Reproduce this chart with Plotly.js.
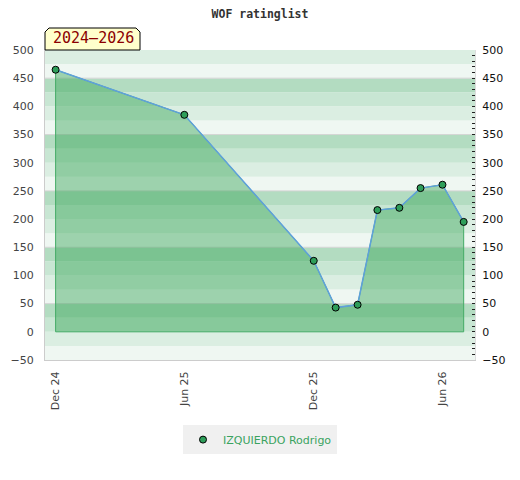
<!DOCTYPE html>
<html>
<head>
<meta charset="utf-8">
<script src="https://cdn.plot.ly/plotly-3.0.1.min.js"></script>
<style>html,body{margin:0;padding:0;background:#fff}#chart{width:520px;height:480px}</style>
</head>
<body>
<div id="chart"></div>
<script>
var dates = ["2024-12-01","2025-06-01","2025-12-01","2026-01-01","2026-02-01","2026-03-01","2026-04-01","2026-05-01","2026-06-01","2026-07-01"];
var ratings = [465, 385, 126, 43, 48, 216, 220, 255, 261, 195];
var playerName = "IZQUIERDO Rodrigo";
var chartTitle = "WOF ratinglist";
var periodLabel = "2024\u20132026";
var yMin = -50, yMax = 500;

var bandColors = ["#eff7f2", "#dbeee2", "#c8e6d3", "#b3dcc1"];
var shapes = [];
for (var v = yMin; v < yMax; v += 25) {
  var idx = (((v - yMin) / 25) % 4 + 4) % 4;
  shapes.push({type:"rect", xref:"paper", yref:"y", x0:0, x1:1, y0:v, y1:v+25,
    fillcolor: bandColors[idx], line:{width:0}, layer:"below"});
}
for (var g = yMin + 100; g < yMax; g += 100) {
  shapes.push({type:"line", xref:"paper", yref:"y", x0:0, x1:1, y0:g, y1:g,
    line:{color:"#d4d4d4", width:1}, layer:"below"});
}
shapes.push({type:"path", xref:"paper", yref:"paper", xsizemode:"pixel", ysizemode:"pixel",
  xanchor:0, yanchor:1, path:"M0,0 L0,18 L4,22 L91,22 L95,18 L95,0 Z",
  fillcolor:"#ffffcc", line:{color:"#000", width:1}, layer:"above"});

var polyX = [dates[0]].concat(dates, [dates[dates.length-1], dates[0]]);
var polyY = [0].concat(ratings, [0, 0]);

var traces = [
  {x: polyX, y: polyY, type:"scatter", mode:"lines", fill:"toself",
   fillcolor:"rgba(48,163,81,0.43)", line:{color:"#44ab66", width:1},
   showlegend:false, hoverinfo:"skip"},
  {x: dates, y: ratings, type:"scatter", mode:"lines+markers",
   line:{color:"#5fa0dc", width:1.5},
   marker:{size:7, color:"#2e9e5a", line:{color:"#000", width:1}},
   showlegend:false, hoverinfo:"skip"},
  {x:[null], y:[null], type:"scatter", mode:"markers", name: playerName,
   marker:{size:7, color:"#2e9e5a", line:{color:"#000", width:1}}, showlegend:true},
  {x: dates, y: ratings, yaxis:"y2", type:"scatter", mode:"none", showlegend:false, hoverinfo:"skip"}
];

var axisFont = {family:"DejaVu Sans, sans-serif", size:11, color:"#444"};
var layout = {
  width:520, height:480,
  margin:{l:45, r:45, t:50, b:120},
  paper_bgcolor:"#fff", plot_bgcolor:"#fff",
  title:{text: chartTitle, x:0.5, xanchor:"center", y:0.98, yanchor:"top",
    font:{family:"DejaVu Sans Mono, monospace", size:11.5, color:"#333", weight:"bold"}},
  xaxis:{type:"date", range:["2024-11-16","2026-07-17"], tick0:"2024-12-01", dtick:"M6",
    tickformat:"%b %y", tickangle:-90, showgrid:false, zeroline:false,
    showline:true, linecolor:"#ccc", linewidth:1, ticks:"", tickfont:axisFont,
    ticklabelstandoff:6, fixedrange:true},
  yaxis:{range:[yMin, yMax], dtick:50, tick0:0, showgrid:false, zeroline:false,
    showline:true, linecolor:"#ccc", linewidth:1, ticks:"", tickfont:axisFont,
    ticklabelstandoff:8, fixedrange:true},
  yaxis2:{range:[yMin, yMax], dtick:50, tick0:0, overlaying:"y", side:"right",
    showgrid:false, zeroline:false, showline:true, linecolor:"#ddd", linewidth:1,
    ticks:"inside", ticklen:3, tickcolor:"#222", tickwidth:1,
    minor:{dtick:10, ticks:"inside", ticklen:3, tickcolor:"#222", tickwidth:1, showgrid:false},
    tickfont:{family:"DejaVu Sans, sans-serif", size:11, color:"#111"},
    ticklabelstandoff:4, fixedrange:true},
  shapes: shapes,
  annotations:[{text: periodLabel, xref:"paper", yref:"paper", x:0, y:1, xanchor:"left", yanchor:"bottom",
    xshift:6, yshift:1, showarrow:false,
    font:{family:"DejaVu Sans Mono, monospace", size:15, color:"#8b0000"}}],
  legend:{orientation:"h", x:0.5, xanchor:"center", y:-0.21, yanchor:"top",
    bgcolor:"#f0f0f0", itemwidth:30, font:{family:"DejaVu Sans, sans-serif", size:11, color:"#3aa35f"}},
  hovermode:false
};
Plotly.newPlot("chart", traces, layout, {displayModeBar:false, staticPlot:true});
</script>
</body>
</html>
